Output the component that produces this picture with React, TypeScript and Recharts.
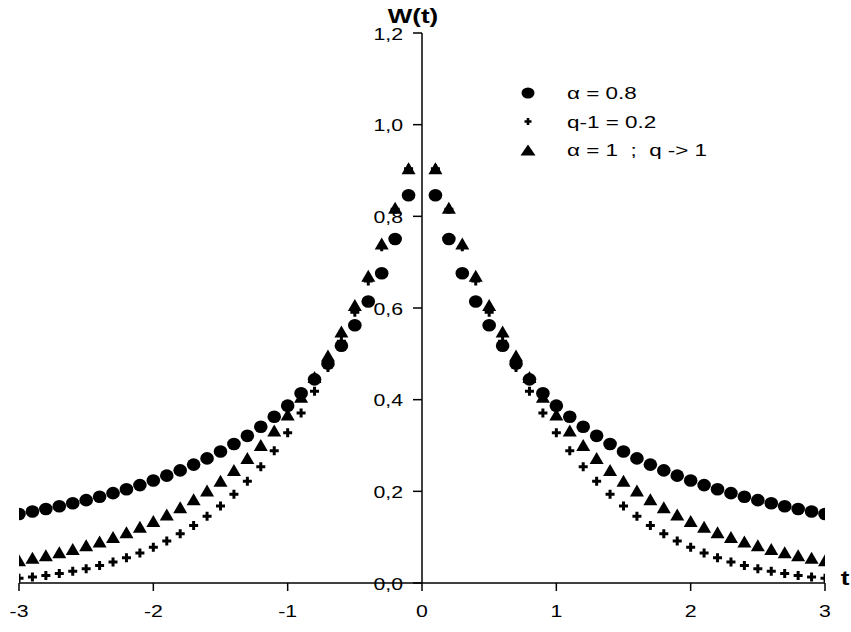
import React from 'react';
import { ScatterChart, Scatter, XAxis, YAxis, ReferenceLine, ReferenceDot, Legend } from 'recharts';

// ---- data ----
const tPositive = [0.1, 0.2, 0.3, 0.4, 0.5, 0.6, 0.7, 0.8, 0.9, 1.0, 1.1, 1.2, 1.3, 1.4, 1.5, 1.6, 1.7, 1.8, 1.9, 2.0, 2.1, 2.2, 2.3, 2.4, 2.5, 2.6, 2.7, 2.8, 2.9, 3.0];
// alpha = 0.8 (circles)
const alpha08Values = [0.8461, 0.7506, 0.6759, 0.6143, 0.5623, 0.5176, 0.4786, 0.4443, 0.414, 0.3869, 0.3627, 0.3408, 0.3211, 0.3032, 0.2869, 0.2719, 0.2583, 0.2458, 0.2342, 0.2235, 0.2136, 0.2045, 0.196, 0.1881, 0.1808, 0.174, 0.1676, 0.1616, 0.1559, 0.1505];
// q-1 = 0.2 (plus)
const qValues = [0.9039, 0.8154, 0.7339, 0.6591, 0.5905, 0.5277, 0.4704, 0.4182, 0.3707, 0.3277, 0.2887, 0.2536, 0.2219, 0.1935, 0.1681, 0.1454, 0.1252, 0.1074, 0.0916, 0.0778, 0.0656, 0.0551, 0.0459, 0.038, 0.0313, 0.0255, 0.0206, 0.0165, 0.0131, 0.0102];
// alpha = 1 ; q -> 1 (triangles)
const expValues = [0.9048, 0.8187, 0.7408, 0.6703, 0.6065, 0.5488, 0.4966, 0.4493, 0.4066, 0.3679, 0.3329, 0.3012, 0.2725, 0.2466, 0.2231, 0.2019, 0.1827, 0.1653, 0.1496, 0.1353, 0.1225, 0.1108, 0.1003, 0.0907, 0.0821, 0.0743, 0.0672, 0.0608, 0.055, 0.0498];

const xTicks = [-3, -2, -1, 0, 1, 2, 3];
const yTicks = [0, 0.2, 0.4, 0.6, 0.8, 1.0, 1.2];
const seriesNames = ['\u03b1 = 0.8', 'q-1 = 0.2', '\u03b1 = 1  ;  q -> 1'];
const xTitle = 't';
const yTitle = 'W(t)';

const FONT = '"Liberation Sans", Arial, sans-serif';
const SX = 1.33;

const mirror = (vals: number[]) => [
  ...tPositive.map((t, i) => ({ t: -t, w: vals[i] })).reverse(),
  ...tPositive.map((t, i) => ({ t, w: vals[i] })),
];

const circleData = mirror(alpha08Values);
const plusData = mirror(qValues);
const triData = mirror(expValues);

const CircleMark = (p: any) => (
  <ellipse cx={p.cx} cy={p.cy} rx={p.legend ? 6.5 : 6.8} ry={p.legend ? 5.5 : 6.3} fill="#000" />
);
const PlusMark = (p: any) => {
  const a = p.legend ? 3.5 : 4.5;
  const b = p.legend ? 1.3 : 1.5;
  const { cx, cy } = p;
  return (
    <path
      d={`M${cx - a},${cy - b}H${cx - b}V${cy - a}H${cx + b}V${cy - b}H${cx + a}V${cy + b}H${cx + b}V${cy + a}H${cx - b}V${cy + b}H${cx - a}Z`}
      fill="#000"
    />
  );
};
const TriMark = (p: any) => {
  const { cx, cy } = p;
  const w = p.legend ? 7.5 : 7;
  const h = p.legend ? 5.5 : 6;
  return <polygon points={`${cx - w},${cy + h} ${cx + w},${cy + h} ${cx},${cy - h}`} fill="#000" />;
};
const marks = [CircleMark, PlusMark, TriMark];

const fmtY = (v: number) => v.toFixed(1).replace('.', ',');

const makeYTick = (label: string) => (p: any) => (
  <g>
    <line x1={p.cx - 9} y1={p.cy} x2={p.cx} y2={p.cy} stroke="#000" strokeWidth={1.5} />
    <text
      transform={`translate(${p.cx - 19},${p.cy + 6.5}) scale(${SX},1)`}
      textAnchor="end"
      fontSize={16}
      fontFamily={FONT}
      fill="#000"
    >
      {label}
    </text>
  </g>
);

const XTick = (p: any) => (
  <text
    transform={`translate(${p.x},${p.y}) scale(${SX},1)`}
    textAnchor="middle"
    dy="0.71em"
    fontSize={16}
    fontFamily={FONT}
    fill="#000"
  >
    {p.payload.value}
  </text>
);

const xTitleLabel = (p: any) => {
  const vb = p.viewBox;
  return (
    <text
      transform={`translate(${vb.x + vb.width + 20},${vb.y + 2}) scale(1.3,1)`}
      textAnchor="middle"
      fontSize={20}
      fontWeight="bold"
      fontFamily={FONT}
      fill="#000"
    >
      {xTitle}
    </text>
  );
};

const yTitleLabel = (p: any) => {
  const vb = p.viewBox;
  return (
    <text
      transform={`translate(${vb.x - 9},${vb.y - 10}) scale(1.3,1)`}
      textAnchor="middle"
      fontSize={20}
      fontWeight="bold"
      fontFamily={FONT}
      fill="#000"
    >
      {yTitle}
    </text>
  );
};

const renderLegend = () => (
  <svg width={260} height={90} style={{ display: 'block', overflow: 'visible' }}>
    {seriesNames.map((name, i) => {
      const cy = 15 + i * 28.5;
      const Mark = marks[i];
      return (
        <g key={name}>
          <Mark cx={28} cy={cy} legend />
          <text
            transform={`translate(67,${cy + 6}) scale(1.32,1)`}
            fontSize={17}
            fontFamily={FONT}
            fill="#000"
            style={{ whiteSpace: 'pre' }}
            xmlSpace="preserve"
          >
            {name}
          </text>
        </g>
      );
    })}
  </svg>
);

export default function App() {
  return (
    <div style={{ position: 'absolute', left: 0, top: 0, background: '#fff' }}>
      <ScatterChart width={851} height={632} margin={{ top: 33, right: 26, bottom: 0, left: 19 }}>
        <XAxis
          dataKey="t"
          type="number"
          domain={[-3, 3]}
          ticks={xTicks}
          interval={0}
          allowDataOverflow
          height={49}
          tickSize={8}
          tickMargin={15}
          axisLine={{ stroke: '#000', strokeWidth: 1.5 }}
          tickLine={{ stroke: '#000', strokeWidth: 1.5 }}
          tick={(p: any) => <XTick {...p} />}
          label={xTitleLabel}
        />
        <YAxis dataKey="w" type="number" domain={[0, 1.2]} allowDataOverflow hide />
        <ReferenceLine x={0} stroke="#000" strokeWidth={1.5} ifOverflow="visible" label={yTitleLabel} />
        {yTicks.map((v) => (
          <ReferenceDot key={v} x={0} y={v} r={0} ifOverflow="visible" shape={makeYTick(fmtY(v))} />
        ))}
        <Scatter name={seriesNames[0]} data={circleData} shape={CircleMark} isAnimationActive={false} />
        <Scatter name={seriesNames[2]} data={triData} shape={TriMark} isAnimationActive={false} />
        <Scatter name={seriesNames[1]} data={plusData} shape={PlusMark} isAnimationActive={false} />
        <Legend
          layout="vertical"
          align="center"
          verticalAlign="middle"
          content={renderLegend}
          wrapperStyle={{ left: 500, top: 78, width: 260, height: 90 }}
        />
      </ScatterChart>
    </div>
  );
}
